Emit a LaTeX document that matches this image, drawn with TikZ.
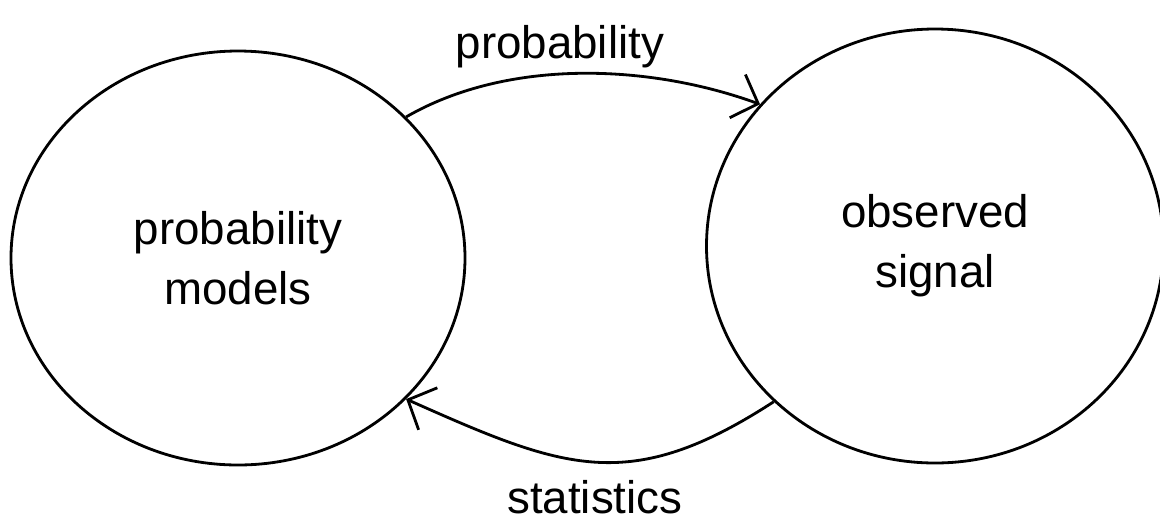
\documentclass[tikz,border=0pt]{standalone}
\usepackage{fontspec}
\setmainfont{Liberation Sans}
\usetikzlibrary{shapes.geometric,arrows.meta}
\begin{document}
\begin{tikzpicture}[
    font=\fontsize{13}{17}\selectfont,
    % Both blobs drawn as slightly squashed ellipses
    blob/.style={draw=black, ellipse, line width=0.8pt, align=center,
                 inner sep=0pt},
    % Curved connector with open barb tip
    arr/.style={-{Straight Barb[length=2.2mm, width=4.6mm]},
                line width=0.8pt, draw=black},
    lbl/.style={font=\fontsize{13}{17}\selectfont, inner sep=2pt},
]

% Page 11.6cm x 5.27cm (1px = 0.01cm)
\useasboundingbox (0,0) rectangle (11.6,5.27);

%% ── The two blobs ──
\node[blob, minimum width=4.54cm, minimum height=4.14cm]
      (mdl) at (2.38, 2.69) {probability\\models};
\node[blob, minimum width=4.57cm, minimum height=4.34cm]
      (sig) at (9.35, 2.81) {observed\\signal};

%% ── Forward arrow (top) ──
\draw[arr] (mdl.40) to[out=30, in=160, looseness=0.85]
    node[lbl, midway, above, xshift=-2mm, yshift=-0.3mm] (lp) {probability}
    (sig.141);

%% ── Backward arrow (bottom) ──
\draw[arr] (sig.224) to[out=213, in=-24, looseness=1.2]
    node[lbl, midway, below, yshift=-1mm] (ls) {statistics}
    (mdl.-40);

\end{tikzpicture}
\end{document}
